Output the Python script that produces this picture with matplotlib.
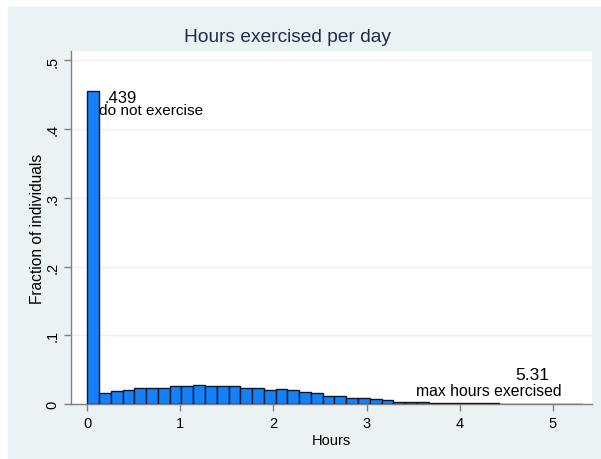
import numpy as np
import matplotlib
matplotlib.use("Agg")
import matplotlib.pyplot as plt
from matplotlib.patches import Rectangle

plt.rcParams["font.family"] = ["Liberation Sans", "DejaVu Sans"]

# histogram of hours exercised per day (fraction of individuals per bin)
max_hours = 5.31
fractions = [
    0.455, 0.0155, 0.0190, 0.0205, 0.0230, 0.0226, 0.0226, 0.0260, 0.0256, 0.0276,
    0.0255, 0.0255, 0.0260, 0.0236, 0.0228, 0.0197, 0.0216, 0.0202, 0.0177, 0.0155,
    0.0121, 0.0110, 0.0092, 0.0090, 0.0068, 0.0053, 0.0036, 0.0034, 0.0025, 0.0020,
    0.0016, 0.0012, 0.0010, 0.0009, 0.0008, 0.0007, 0.0006, 0.0006, 0.0005, 0.0005,
    0.0004, 0.0004,
]
no_exercise_share = ".439"
x_ticks = [0, 1, 2, 3, 4, 5]
y_ticks = [0, 0.1, 0.2, 0.3, 0.4, 0.5]
y_tick_labels = ["0", ".1", ".2", ".3", ".4", ".5"]

bg = "#eaf2f3"
bar_color = "#1580f8"
axis_grey = "#808080"

fig = plt.figure(figsize=(6.01, 4.60), dpi=100)
fig.patch.set_facecolor("white")
# graph region (light blue-grey), leaving a thin white margin top/left
fig.patches.append(Rectangle((8 / 601, 0), 1, (460 - 8) / 460,
                             transform=fig.transFigure, color=bg, zorder=-10))

ax = fig.add_axes([71 / 601, 1 - 405 / 460, (592 - 71) / 601, (405 - 52) / 460])
ax.set_facecolor("white")

n_bins = len(fractions)
edges = np.linspace(0, max_hours, n_bins + 1)
ax.bar(edges[:-1], fractions, width=np.diff(edges), align="edge",
       color=bar_color, edgecolor="#0a1a2e", linewidth=1.0, zorder=3)

ax.set_xlim(-0.175, 5.422)
ax.set_ylim(0, 0.5138)

ax.set_yticks(y_ticks)
ax.set_yticklabels(y_tick_labels, rotation=90, va="center")
ax.set_xticks(x_ticks)
ax.yaxis.grid(True, color=bg, linewidth=1.0, zorder=0)
ax.set_axisbelow(True)

for side in ["top", "right"]:
    ax.spines[side].set_visible(False)
for side in ["left", "bottom"]:
    ax.spines[side].set_color(axis_grey)
    ax.spines[side].set_linewidth(1.0)
ax.tick_params(axis="both", colors=axis_grey, length=5, width=1.0,
               labelcolor="black", labelsize=10.5)
ax.tick_params(axis="y", pad=3.5)
ax.tick_params(axis="x", pad=4)

ax.set_ylabel("Fraction of individuals", fontsize=11.2, va="center")
ax.yaxis.set_label_coords(-0.064, 0.5)
ax.set_xlabel("Hours", fontsize=10.5, labelpad=2)

# annotations
ax.text(0.18, 0.44, no_exercise_share, fontsize=12, ha="left", va="baseline", zorder=5)
ax.text(0.126, 0.422, "do not exercise", fontsize=11.1, ha="left", va="baseline", zorder=5)
ax.text(4.78, 0.037, f"{max_hours:.2f}", fontsize=12.5, ha="center", va="baseline", zorder=5)
ax.text(4.31, 0.0128, "max hours exercised", fontsize=11.3, ha="center", va="baseline", zorder=5)

fig.text(287 / 601, 1 - 42.5 / 460, "Hours exercised per day", fontsize=13.8,
         color="#1e2b4f", ha="center", va="baseline")

fig.savefig("out.png", dpi=100)
